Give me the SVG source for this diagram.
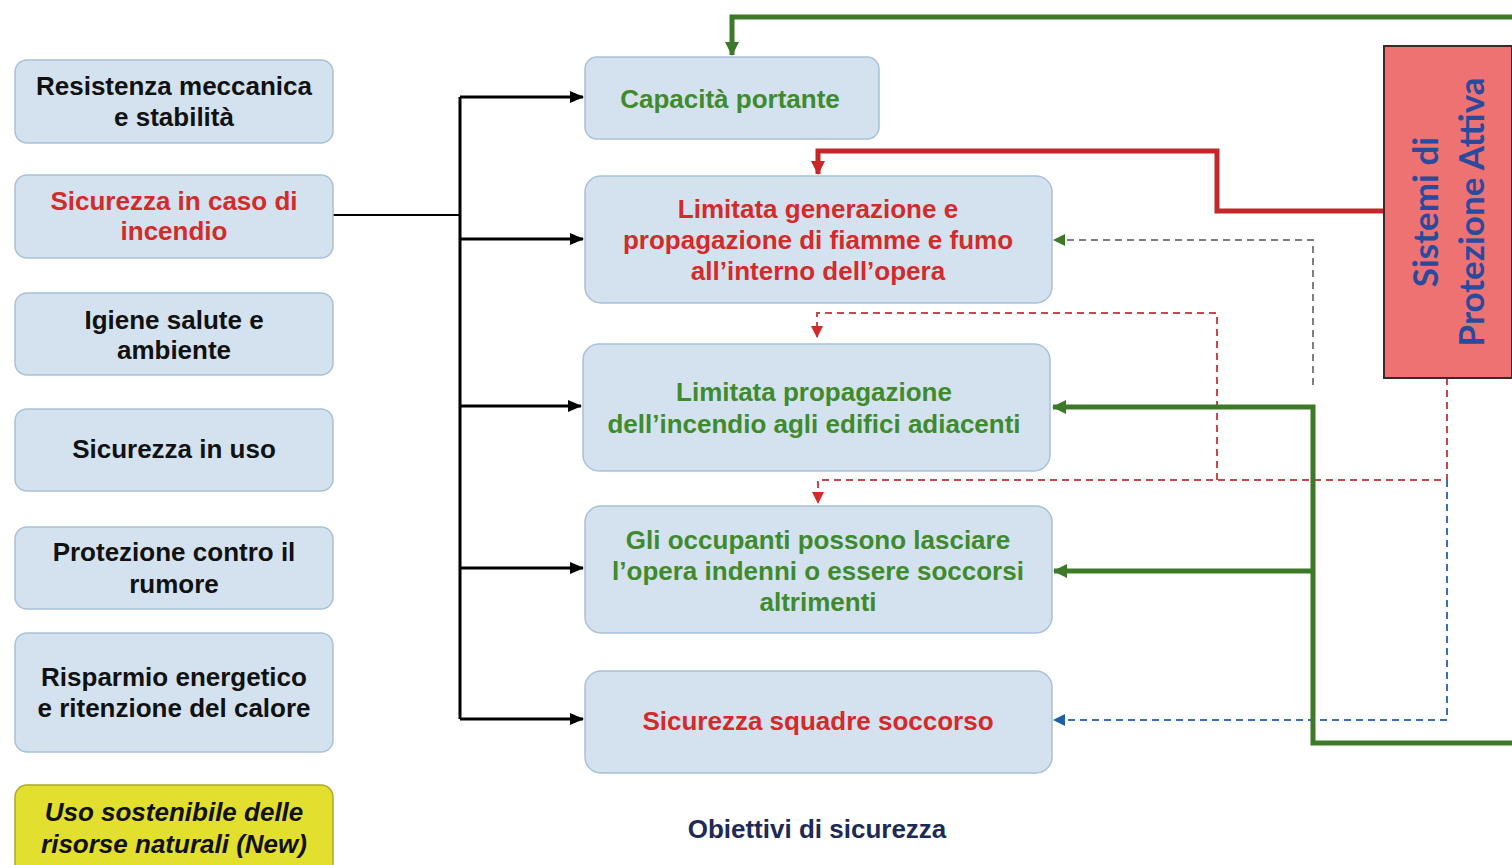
<svg xmlns="http://www.w3.org/2000/svg" width="1512" height="865" viewBox="0 0 1512 865">
<style>
.box{fill:#d3e2ee;stroke:#a9c1d6;stroke-width:1.5}
.t{font-family:"Liberation Sans",Arial,sans-serif;font-weight:bold;font-size:26px;text-anchor:middle}
.k{fill:#111}
.r{fill:#d42a2a}
.g{fill:#3f8a2d}
.blk{stroke:#000;stroke-width:3;fill:none}
.gs{stroke:#3c7a2a;stroke-width:5;fill:none}
.rs{stroke:#c0282a;stroke-width:5;fill:none}
.dg{stroke:#7a7f86;stroke-width:2;stroke-dasharray:7 5;fill:none}
.dr{stroke:#c8484a;stroke-width:2;stroke-dasharray:7 5;fill:none}
.db{stroke:#3a6fb0;stroke-width:2;stroke-dasharray:7 5;fill:none}
</style>
<defs>
<marker id="ak" markerUnits="userSpaceOnUse" markerWidth="14" markerHeight="12" refX="13" refY="6" orient="auto"><path d="M0,0 L14,6 L0,12 z" fill="#000"/></marker>
<marker id="ag" markerUnits="userSpaceOnUse" markerWidth="14" markerHeight="14" refX="13" refY="7" orient="auto"><path d="M0,0 L14,7 L0,14 z" fill="#3c7a2a"/></marker>
<marker id="ar" markerUnits="userSpaceOnUse" markerWidth="14" markerHeight="14" refX="13" refY="7" orient="auto"><path d="M0,0 L14,7 L0,14 z" fill="#c8282a"/></marker>
<marker id="ags" markerUnits="userSpaceOnUse" markerWidth="12" markerHeight="12" refX="11" refY="6" orient="auto"><path d="M0,0 L12,6 L0,12 z" fill="#3c7a2a"/></marker>
<marker id="ars" markerUnits="userSpaceOnUse" markerWidth="12" markerHeight="12" refX="11" refY="6" orient="auto"><path d="M0,0 L12,6 L0,12 z" fill="#d42a2a"/></marker>
<marker id="abs" markerUnits="userSpaceOnUse" markerWidth="12" markerHeight="12" refX="11" refY="6" orient="auto"><path d="M0,0 L12,6 L0,12 z" fill="#1e5fa8"/></marker>
</defs>
<rect width="1512" height="865" fill="#fff"/>

<g id="connectors">
<path class="blk" d="M333,215 H460" style="stroke-width:2"/>
<path class="blk" d="M460,97 V719"/>
<path class="blk" d="M460,97 H583" marker-end="url(#ak)"/>
<path class="blk" d="M460,239 H583" marker-end="url(#ak)"/>
<path class="blk" d="M460,406 H581" marker-end="url(#ak)"/>
<path class="blk" d="M460,568 H583" marker-end="url(#ak)"/>
<path class="blk" d="M460,719 H583" marker-end="url(#ak)"/>

<path class="gs" d="M1512,17 H732 V55" marker-end="url(#ag)"/>
<path class="rs" d="M1384,211 H1217 V151 H818 V174" marker-end="url(#ar)"/>

<path class="dg" d="M1313,385 V240 H1054" marker-end="url(#ags)"/>
<path class="dr" d="M1217,480 V313 H817 V337" marker-end="url(#ars)"/>
<path class="dr" d="M1447,378 V480 H818 V503" marker-end="url(#ars)"/>
<path class="db" d="M1447,480 V720 H1054" marker-end="url(#abs)"/>

<path class="gs" d="M1512,743 H1313 V407 H1053" marker-end="url(#ag)"/>
<path class="gs" d="M1313,571 H1054" marker-end="url(#ag)"/>
</g>

<g id="n1"><rect class="box" x="15" y="60" width="318" height="83" rx="12"/>
<text class="t k" x="174" y="95">Resistenza meccanica</text><text class="t k" x="174" y="126">e stabilità</text></g>
<g id="n2"><rect class="box" x="15" y="175" width="318" height="83" rx="12"/>
<text class="t r" x="174" y="210">Sicurezza in caso di</text><text class="t r" x="174" y="240">incendio</text></g>
<g id="n3"><rect class="box" x="15" y="293" width="318" height="82" rx="12"/>
<text class="t k" x="174" y="329">Igiene salute e</text><text class="t k" x="174" y="359">ambiente</text></g>
<g id="n4"><rect class="box" x="15" y="409" width="318" height="82" rx="12"/>
<text class="t k" x="174" y="458">Sicurezza in uso</text></g>
<g id="n5"><rect class="box" x="15" y="527" width="318" height="82" rx="12"/>
<text class="t k" x="174" y="561">Protezione contro il</text><text class="t k" x="174" y="593">rumore</text></g>
<g id="n6"><rect class="box" x="15" y="633" width="318" height="119" rx="12"/>
<text class="t k" x="174" y="686">Risparmio energetico</text><text class="t k" x="174" y="717">e ritenzione del calore</text></g>
<g id="n7"><rect x="15" y="785" width="318" height="90" rx="12" fill="#e3df2e" stroke="#a9a92a" stroke-width="1.5"/>
<text class="t k" x="174" y="821" font-style="italic">Uso sostenibile delle</text><text class="t k" x="174" y="853" font-style="italic">risorse naturali (New)</text></g>

<g id="oA"><rect class="box" x="585" y="57" width="294" height="82" rx="12"/>
<text class="t g" x="730" y="108">Capacità portante</text></g>
<g id="oB"><rect class="box" x="585" y="176" width="467" height="127" rx="16"/>
<text class="t r" x="818" y="218">Limitata generazione e</text><text class="t r" x="818" y="249">propagazione di fiamme e fumo</text><text class="t r" x="818" y="280">all’interno dell’opera</text></g>
<g id="oC"><rect class="box" x="583" y="344" width="467" height="127" rx="16"/>
<text class="t g" x="814" y="401">Limitata propagazione</text><text class="t g" x="814" y="433">dell’incendio agli edifici adiacenti</text></g>
<g id="oD"><rect class="box" x="585" y="506" width="467" height="127" rx="16"/>
<text class="t g" x="818" y="549">Gli occupanti possono lasciare</text><text class="t g" x="818" y="580">l’opera indenni o essere soccorsi</text><text class="t g" x="818" y="611">altrimenti</text></g>
<g id="oE"><rect class="box" x="585" y="671" width="467" height="102" rx="16"/>
<text class="t r" x="818" y="730">Sicurezza squadre soccorso</text></g>
<g id="label"><text class="t" x="817" y="838" fill="#1d2a55" font-size="25">Obiettivi di sicurezza</text></g>

<g id="sistemi"><rect x="1384" y="46" width="128" height="332" fill="#ef7272" stroke="#3a2a2a" stroke-width="2"/>
<text transform="translate(1438,212) rotate(-90)" font-family="Lato,'Open Sans',sans-serif" font-weight="bold" font-size="35" fill="#2a4a9e" text-anchor="middle"><tspan x="0" y="0">Sistemi di</tspan><tspan x="0" y="46">Protezione Attiva</tspan></text></g>
</svg>
